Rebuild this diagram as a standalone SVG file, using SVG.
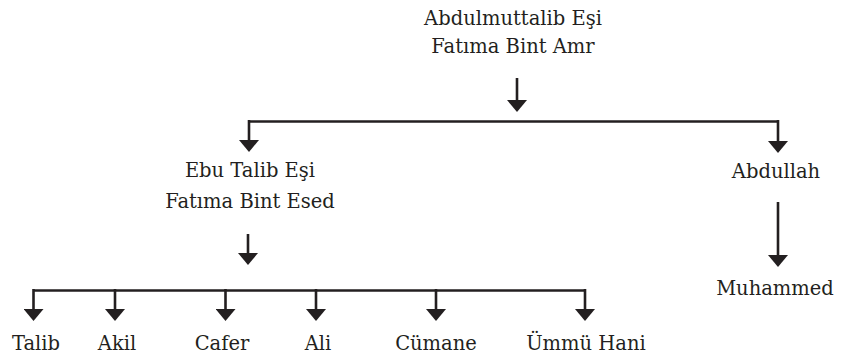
<svg xmlns="http://www.w3.org/2000/svg" width="847" height="358" viewBox="0 0 847 358">
<style>
text{font-family:"DejaVu Serif","Liberation Serif",serif;font-size:19.5px;fill:#231f20;text-anchor:middle}
.c path{fill:none;stroke:#231f20;stroke-width:2.6}
.a{marker-end:url(#ah)}
</style>
<defs>
<marker id="ah" viewBox="0 0 12 20" markerWidth="12" markerHeight="20" refX="6" refY="10" orient="auto" markerUnits="userSpaceOnUse">
<path d="M0,0 L12,10 L0,20 z" fill="#231f20"/>
</marker>
</defs>
<rect width="847" height="358" fill="#fff"/>
<g class="c" id="connectors">
<path class="a" d="M517,78 L517,106"/>
<path d="M249,121.5 L778,121.5"/>
<path class="a" d="M249,120 L249,146"/>
<path class="a" d="M778,120 L778,147"/>
<path class="a" d="M248,234 L248,259"/>
<path d="M33,290.5 L585,290.5"/>
<path class="a" d="M33.5,289 L33.5,315"/>
<path class="a" d="M115,289 L115,315"/>
<path class="a" d="M225.5,289 L225.5,315"/>
<path class="a" d="M316,289 L316,315"/>
<path class="a" d="M436,289 L436,315"/>
<path class="a" d="M585,289 L585,315"/>
<path class="a" d="M778,202 L778,261"/>
</g>
<g id="n-abdulmuttalib"><text x="513" y="25">Abdulmuttalib Eşi</text><text x="513" y="53">Fatıma Bint Amr</text></g>
<g id="n-ebutalib"><text x="250" y="177">Ebu Talib Eşi</text><text x="250" y="208">Fatıma Bint Esed</text></g>
<g id="n-abdullah"><text x="776" y="178">Abdullah</text></g>
<g id="n-muhammed"><text x="775" y="295">Muhammed</text></g>
<g id="n-talib"><text x="36" y="350">Talib</text></g>
<g id="n-akil"><text x="117" y="350">Akil</text></g>
<g id="n-cafer"><text x="222" y="350">Cafer</text></g>
<g id="n-ali"><text x="318" y="350">Ali</text></g>
<g id="n-cumane"><text x="436" y="350">Cümane</text></g>
<g id="n-ummuhani"><text x="586" y="350">Ümmü Hani</text></g>
</svg>
